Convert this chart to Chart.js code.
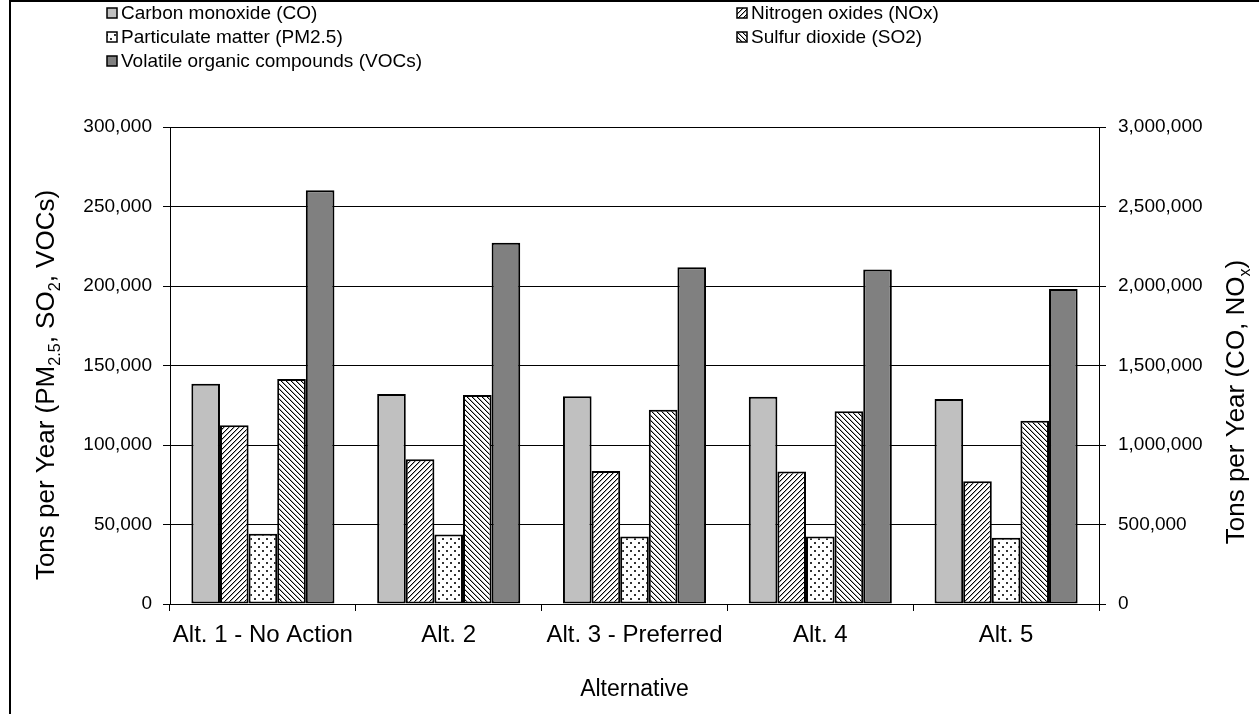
<!DOCTYPE html>
<html><head><meta charset="utf-8">
<script src="https://cdn.jsdelivr.net/npm/chart.js@4.4.0/dist/chart.umd.min.js"></script>
<style>html,body{margin:0;padding:0;background:#fff;overflow:hidden}canvas{display:block}</style>
</head><body>
<canvas id="c" width="1259" height="714"></canvas>
<script>
const categories = ['Alt. 1 - No Action', 'Alt. 2', 'Alt. 3 - Preferred', 'Alt. 4', 'Alt. 5'];
const seriesNames = ['Carbon monoxide (CO)', 'Nitrogen oxides (NOx)', 'Particulate matter (PM2.5)', 'Sulfur dioxide (SO2)', 'Volatile organic compounds (VOCs)'];
const coValues   = [1386000, 1320000, 1306000, 1304000, 1290000];
const noxValues  = [1125000, 910000, 836000, 834000, 772000];
const pm25Values = [44200, 43700, 42400, 42400, 41600];
const so2Values  = [141500, 131400, 122200, 121200, 115200];
const vocValues  = [260200, 227200, 211800, 210300, 198100];
const leftMax = 300000, leftStep = 50000;
const rightMax = 3000000, rightStep = 500000;

const FONT = "'Liberation Sans', Arial, sans-serif";
const canvas = document.getElementById('c');
const ctx0 = canvas.getContext('2d');

function makePattern(kind){
  const n = kind === 'dots' ? 8 : 5;
  const t = document.createElement('canvas'); t.width = n; t.height = n;
  const g = t.getContext('2d');
  g.fillStyle = '#fff'; g.fillRect(0,0,n,n);
  for (let y=0;y<n;y++) for (let x=0;x<n;x++){
    if (kind==='dots') continue;
    const f = (x+y)%n, b = ((x-y)%n+n)%n;
    const v = kind==='fwd' ? f : b;
    if (v===0){ g.fillStyle='#000'; g.fillRect(x,y,1,1); }
    else if (v===1){ g.fillStyle='#a8a8a8'; g.fillRect(x,y,1,1); }
  }
  if (kind==='dots'){ g.fillStyle='#333'; g.fillRect(2,2,2,2); g.fillRect(6,6,2,2); }
  return ctx0.createPattern(t,'repeat');
}

const fills = ['#c0c0c0', makePattern('fwd'), makePattern('dots'), makePattern('back'), '#808080'];
const seriesData = [coValues, noxValues, pm25Values, so2Values, vocValues];
const axisFor = ['y2','y2','y','y','y'];

const fmt = v => Number(v).toLocaleString('en-US');

function drawRich(ctx, segs, cx, cy, size){
  ctx.save();
  ctx.translate(cx, cy); ctx.rotate(-Math.PI/2);
  let total = 0;
  const parts = segs.map(s => {
    const fs = s.sub ? size*0.62 : size;
    ctx.font = fs + 'px ' + FONT;
    const w = ctx.measureText(s.t).width; total += w;
    return {t:s.t, fs, w, sub:s.sub};
  });
  let x = -total/2;
  ctx.fillStyle = '#000'; ctx.textBaseline = 'alphabetic'; ctx.textAlign = 'left';
  const base = size*0.35;
  parts.forEach(p => {
    ctx.font = p.fs + 'px ' + FONT;
    ctx.fillText(p.t, x, base + (p.sub ? size*0.22 : 0));
    x += p.w;
  });
  ctx.restore();
}

const decor = {
  id: 'decor',
  beforeDraw(chart){
    const c = chart.ctx;
    c.save(); c.fillStyle='#fff'; c.fillRect(0,0,chart.width,chart.height);
    c.strokeStyle='#000'; c.lineWidth=2; c.strokeRect(10,1,1400,900); c.restore();
  },
  afterDraw(chart){
    const c = chart.ctx, a = chart.chartArea;
    c.save();
    c.strokeStyle='#000'; c.lineWidth=1;
    c.beginPath(); c.moveTo(a.left, Math.round(a.top)+0.5); c.lineTo(a.right, Math.round(a.top)+0.5); c.stroke();
    // legend
    const colX = [107, 737], rowY = [13, 37, 61];
    chart.data.datasets.forEach((ds, i) => {
      const bx = colX[i%2], by = rowY[Math.floor(i/2)];
      c.fillStyle = ds.backgroundColor; c.fillRect(bx, by-5, 10, 10);
      c.lineWidth = 1.5; c.strokeStyle = '#000'; c.strokeRect(bx, by-5, 10, 10);
      c.fillStyle = '#000'; c.font = '19px ' + FONT; c.textBaseline='middle'; c.textAlign='left';
      c.fillText(ds.label, bx+14, by+1);
    });
    // axis titles
    drawRich(c, [{t:'Tons per Year (PM'},{t:'2.5',sub:true},{t:', SO'},{t:'2',sub:true},{t:', VOCs)'}], 45, 385, 26);
    drawRich(c, [{t:'Tons per Year (CO, NO'},{t:'x',sub:true},{t:')'}], 1235, 402, 26);
    c.font = '23px ' + FONT; c.textAlign='center'; c.textBaseline='middle'; c.fillStyle='#000';
    c.fillText('Alternative', (a.left+a.right)/2, 690);
    c.restore();
  }
};

new Chart(canvas, {
  type: 'bar',
  data: {
    labels: categories,
    datasets: seriesNames.map((name, i) => ({
      label: name,
      data: seriesData[i],
      yAxisID: axisFor[i],
      backgroundColor: fills[i],
      borderColor: '#000',
      borderWidth: 2,
      borderSkipped: false,
      categoryPercentage: 0.77,
      barPercentage: 1.0
    }))
  },
  options: {
    responsive: false,
    animation: false,
    devicePixelRatio: 1,
    layout: { padding: { top: 127, left: 0, right: 0, bottom: 0 } },
    plugins: { legend: { display: false }, tooltip: { enabled: false } },
    scales: {
      x: {
        afterFit: s => { s.height = 110; },
        grid: { display: true, drawOnChartArea: false, offset: true, color: '#000', tickLength: 7, lineWidth: 1 },
        border: { display: true, color: '#000', width: 1 },
        ticks: { color: '#000', font: { family: FONT, size: 24 }, padding: 10, maxRotation: 0, autoSkip: false }
      },
      y: {
        position: 'left',
        min: 0, max: leftMax,
        afterFit: s => { s.width = 170; },
        grid: { color: '#000', lineWidth: 1, tickLength: 7 },
        border: { display: true, color: '#000', width: 1 },
        ticks: { stepSize: leftStep, color: '#000', font: { family: FONT, size: 19 }, padding: 11, callback: v => fmt(v) }
      },
      y2: {
        position: 'right',
        min: 0, max: rightMax,
        afterFit: s => { s.width = 160; },
        grid: { drawOnChartArea: false, color: '#000', lineWidth: 1, tickLength: 7 },
        border: { display: true, color: '#000', width: 1 },
        ticks: { stepSize: rightStep, color: '#000', font: { family: FONT, size: 19 }, padding: 12, callback: v => fmt(v) }
      }
    }
  },
  plugins: [decor]
});
</script>
</body></html>
